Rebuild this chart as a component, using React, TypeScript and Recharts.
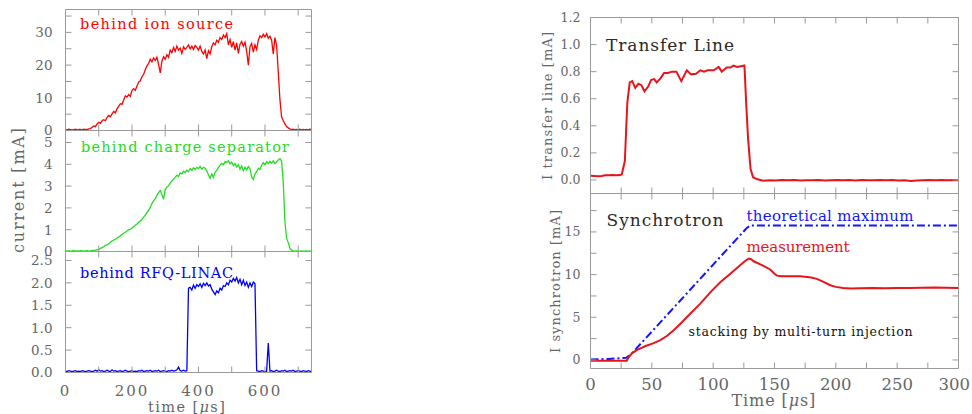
import React from 'react';
import { LineChart, Line, XAxis, YAxis } from 'recharts';

const W = 972;
const H = 414;

// ---- beam current traces, time in µs, current in mA ----
const ionSource: [number, number][] = [
  [0, 0.3], [5, 0.2], [10, 0.4], [15, 0.3], [20, 0.2], [25, 0.3], [30, 0.4], [35, 0.2], [40, 0.3], [45, 0.3],
  [50, 0.2], [55, 0.4], [60, 0.3], [65, 0.3], [70, 0.5], [75, 0.6], [80, 1.0], [85, 1.4], [90, 1.2], [95, 2.0],
  [100, 2.5], [105, 2.2], [110, 3.0], [115, 3.3], [120, 3.0], [125, 4.0], [130, 4.6], [135, 4.2], [140, 5.1], [145, 5.8],
  [150, 5.4], [155, 6.6], [160, 7.4], [165, 8.2], [170, 8.0], [175, 9.3], [180, 10.6], [185, 10.2], [190, 11.0], [195, 10.4],
  [200, 12.2], [205, 12.8], [210, 12.3], [215, 13.6], [220, 14.8], [225, 15.2], [230, 16.4], [235, 17.2], [240, 18.6], [245, 19.8],
  [250, 20.5], [255, 21.8], [260, 21.0], [265, 22.2], [270, 21.4], [275, 22.4], [280, 20.2], [285, 17.6], [290, 21.2], [295, 22.6],
  [300, 21.8], [305, 23.2], [310, 22.4], [315, 24.6], [320, 23.8], [325, 25.4], [330, 24.2], [335, 25.8], [340, 24.6], [345, 25.2],
  [350, 23.6], [355, 25.6], [360, 24.8], [365, 25.4], [370, 26.2], [375, 25.0], [380, 25.8], [385, 24.8], [390, 26.0], [395, 25.4],
  [400, 24.6], [405, 25.8], [410, 24.2], [415, 23.4], [420, 24.6], [425, 22.0], [430, 24.4], [435, 23.4], [440, 25.6], [445, 26.8],
  [450, 26.2], [455, 27.6], [460, 27.0], [465, 28.4], [470, 27.8], [475, 29.2], [480, 28.4], [485, 29.6], [490, 26.2], [495, 27.8],
  [500, 25.4], [505, 27.2], [510, 24.6], [515, 26.8], [520, 23.6], [525, 26.4], [530, 27.2], [535, 25.8], [540, 27.0], [545, 24.2],
  [550, 20.0], [555, 25.6], [560, 26.6], [565, 24.0], [570, 26.2], [575, 24.8], [580, 27.6], [585, 29.0], [590, 28.4], [595, 29.4],
  [600, 28.6], [605, 29.6], [610, 28.2], [615, 28.8], [620, 27.6], [625, 23.4], [630, 28.4], [635, 26.0], [640, 18.0], [645, 9.5],
  [650, 4.2], [655, 3.0], [660, 2.0], [665, 1.2], [670, 0.8], [675, 0.5], [680, 0.3], [685, 0.4], [690, 0.2], [695, 0.3],
  [700, 0.2], [705, 0.4], [710, 0.2], [715, 0.3], [720, 0.2], [725, 0.3], [730, 0.2], [735, 0.4], [740, 0.3],
];

const chargeSeparator: [number, number][] = [
  [0, 0.03], [5, 0.02], [10, 0.04], [15, 0.02], [20, 0.03], [25, 0.05], [30, 0.02], [35, 0.03], [40, 0.02], [45, 0.04],
  [50, 0.03], [55, 0.02], [60, 0.03], [65, 0.04], [70, 0.02], [75, 0.03], [80, 0.05], [85, 0.04], [90, 0.06], [95, 0.08],
  [100, 0.10], [105, 0.14], [110, 0.18], [115, 0.22], [120, 0.28], [125, 0.30], [130, 0.36], [135, 0.42], [140, 0.48], [145, 0.52],
  [150, 0.56], [155, 0.62], [160, 0.66], [165, 0.72], [170, 0.78], [175, 0.84], [180, 0.88], [185, 0.94], [190, 1.00], [195, 1.02],
  [200, 1.08], [205, 1.14], [210, 1.20], [215, 1.26], [220, 1.34], [225, 1.40], [230, 1.48], [235, 1.58], [240, 1.66], [245, 1.78],
  [250, 1.90], [255, 2.02], [260, 2.20], [265, 2.32], [270, 2.42], [275, 2.58], [280, 2.70], [285, 2.80], [290, 2.62], [295, 2.40],
  [300, 2.84], [305, 2.96], [310, 3.02], [315, 3.14], [320, 3.24], [325, 3.32], [330, 3.40], [335, 3.50], [340, 3.44], [345, 3.60],
  [350, 3.56], [355, 3.68], [360, 3.62], [365, 3.74], [370, 3.66], [375, 3.80], [380, 3.72], [385, 3.84], [390, 3.76], [395, 3.86],
  [400, 3.80], [405, 3.90], [410, 3.78], [415, 3.86], [420, 3.82], [425, 3.70], [430, 3.52], [435, 3.36], [440, 3.56], [445, 3.40],
  [450, 3.64], [455, 3.72], [460, 3.86], [465, 3.96], [470, 4.04], [475, 3.98], [480, 4.12], [485, 4.08], [490, 4.16], [495, 4.02],
  [500, 4.10], [505, 3.94], [510, 4.04], [515, 3.88], [520, 3.98], [525, 3.78], [530, 3.92], [535, 3.70], [540, 3.86], [545, 3.74],
  [550, 3.90], [555, 3.80], [560, 3.42], [565, 3.30], [570, 3.56], [575, 3.66], [580, 3.82], [585, 3.76], [590, 3.96], [595, 4.08],
  [600, 3.98], [605, 4.12], [610, 4.04], [615, 4.14], [620, 4.06], [625, 4.16], [630, 4.04], [635, 4.12], [640, 4.20], [645, 4.26],
  [650, 4.14], [655, 3.20], [660, 1.40], [665, 0.60], [670, 0.42], [675, 0.15], [680, 0.06], [685, 0.03], [690, 0.02], [695, 0.03],
  [700, 0.02], [705, 0.02], [710, 0.03], [715, 0.02], [720, 0.02], [725, 0.03], [730, 0.02], [735, 0.02], [740, 0.03],
];

const rfqLinac: [number, number][] = [
  [0, 0.03], [5, 0.02], [10, 0.04], [15, 0.03], [20, 0.02], [25, 0.03], [30, 0.04], [35, 0.02], [40, 0.03], [45, 0.02],
  [50, 0.04], [55, 0.03], [60, 0.02], [65, 0.03], [70, 0.04], [75, 0.03], [80, 0.02], [85, 0.03], [90, 0.05], [95, 0.03],
  [100, 0.06], [105, 0.03], [110, 0.04], [115, 0.02], [120, 0.03], [125, 0.05], [130, 0.03], [135, 0.02], [140, 0.06], [145, 0.03],
  [150, 0.04], [155, 0.02], [160, 0.03], [165, 0.04], [170, 0.02], [175, 0.03], [180, 0.05], [185, 0.03], [190, 0.02], [195, 0.03],
  [200, 0.04], [205, 0.02], [210, 0.03], [215, 0.02], [220, 0.04], [225, 0.03], [230, 0.05], [235, 0.02], [240, 0.03], [245, 0.04],
  [250, 0.03], [255, 0.05], [260, 0.02], [265, 0.03], [270, 0.04], [275, 0.03], [280, 0.05], [285, 0.02], [290, 0.03], [295, 0.04],
  [300, 0.03], [305, 0.02], [310, 0.04], [315, 0.03], [320, 0.05], [325, 0.03], [330, 0.04], [335, 0.06], [340, 0.12], [345, 0.04],
  [350, 0.03], [355, 0.05], [360, 0.03], [365, 0.04], [370, 1.88], [375, 1.90], [380, 1.84], [385, 1.95], [390, 1.88], [395, 1.96],
  [400, 1.92], [405, 1.98], [410, 1.90], [415, 1.99], [420, 1.94], [425, 2.00], [430, 1.93], [435, 1.96], [440, 1.86], [445, 1.80],
  [450, 1.74], [455, 1.82], [460, 1.78], [465, 1.88], [470, 1.84], [475, 1.94], [480, 1.92], [485, 2.00], [490, 1.96], [495, 2.06],
  [500, 2.02], [505, 2.10], [510, 2.04], [515, 2.12], [520, 2.00], [525, 2.08], [530, 1.96], [535, 2.06], [540, 1.94], [545, 2.02],
  [550, 1.90], [555, 2.00], [560, 1.92], [565, 2.02], [570, 1.98], [575, 0.04], [580, 0.03], [585, 0.02], [590, 0.04], [595, 0.03],
  [600, 0.02], [605, 0.03], [610, 0.66], [615, 0.03], [620, 0.04], [625, 0.02], [630, 0.03], [635, 0.05], [640, 0.03], [645, 0.02],
  [650, 0.04], [655, 0.03], [660, 0.05], [665, 0.02], [670, 0.03], [675, 0.04], [680, 0.03], [685, 0.05], [690, 0.02], [695, 0.03],
  [700, 0.04], [705, 0.03], [710, 0.02], [715, 0.04], [720, 0.03], [725, 0.02], [730, 0.04], [735, 0.03], [740, 0.02],
];

const transferLine: [number, number][] = [
  [0, 0.032], [3, 0.03], [6, 0.028], [9, 0.03], [12, 0.035], [15, 0.035], [18, 0.036], [21, 0.035], [24, 0.036], [25.5, 0.04],
  [28, 0.14], [30, 0.57], [32, 0.72], [34, 0.73], [36.5, 0.68], [39, 0.71], [41.5, 0.70], [44, 0.655], [47, 0.69], [49.5, 0.74],
  [52, 0.745], [54, 0.72], [57, 0.75], [60, 0.79], [63, 0.79], [66.5, 0.80], [70, 0.80], [74, 0.73], [78.5, 0.81], [82, 0.78],
  [86, 0.785], [89.5, 0.81], [92.5, 0.80], [95.5, 0.81], [100.5, 0.81], [104.5, 0.835], [107, 0.80], [111, 0.83], [114, 0.83], [116.5, 0.845],
  [119.5, 0.835], [122.5, 0.84], [125.5, 0.845], [127, 0.55], [128.5, 0.3], [130.5, 0.08], [132.5, 0.02], [136, 0.005], [141, -0.005], [146, -0.002],
  [151, -0.004], [156, 0.0], [161, -0.003], [166, 0.0], [171, -0.004], [176, -0.002], [181, -0.003], [186, 0.0], [191, -0.004], [196, -0.002],
  [201, 0.0], [206, -0.003], [211, -0.001], [216, -0.004], [221, 0.0], [226, -0.002], [231, -0.003], [236, 0.0], [241, -0.002], [246, -0.001],
  [251, -0.004], [256, -0.002], [261, -0.008], [266, -0.004], [271, -0.002], [276, 0.0], [281, -0.003], [286, 0.0], [291, -0.002], [296, 0.0],
  [300, -0.002],
];

const synchrotronMeasured: [number, number][] = [
  [0, -0.1], [10, -0.1], [20, -0.1], [29.5, -0.1], [31, 0.3], [34, 0.8], [38, 1.17], [42, 1.45], [45, 1.63], [51, 1.95],
  [57, 2.33], [62.5, 2.84], [68, 3.5], [73.5, 4.28], [81.5, 5.45], [89.5, 6.6], [98, 7.98], [106, 9.14], [114, 10.1], [122, 11.1],
  [126, 11.6], [129, 11.87], [131, 11.8], [133, 11.56], [138.5, 11.2], [146.5, 10.6], [150, 10.1], [152, 9.88], [156, 9.82], [160, 9.8],
  [171, 9.8], [176.5, 9.73], [180, 9.65], [184.5, 9.5], [190, 9.14], [195.5, 8.75], [200, 8.56], [206, 8.42], [212, 8.38], [220, 8.4],
  [230, 8.42], [240, 8.4], [250, 8.42], [260, 8.42], [270, 8.45], [280, 8.5], [290, 8.46], [300, 8.42],
];

const synchrotronTheory: [number, number][] = [
  [0, 0.05], [15, 0.12], [29, 0.25], [32.5, 0.58], [127, 15.4], [130, 15.75], [300, 15.75],
];

// ---- axis ticks ----
const leftTimeTicks = [0, 100, 200, 300, 400, 500, 600, 700];
const leftTimeLabels = [0, 200, 400, 600];
const ionTicks = [0, 5, 10, 15, 20, 25, 30, 35];
const ionLabels = [0, 10, 20, 30];
const chargeTicks = [0, 1, 2, 3, 4, 5];
const rfqTicks = [0, 0.5, 1.0, 1.5, 2.0, 2.5];
const rightTimeTicks = [0, 25, 50, 75, 100, 125, 150, 175, 200, 225, 250, 275, 300];
const rightTimeLabels = [0, 50, 100, 150, 200, 250, 300];
const transferTicks = [0, 0.2, 0.4, 0.6, 0.8, 1.0, 1.2];
const synchrotronTicks = [0, 2.5, 5, 7.5, 10, 12.5, 15, 17.5];
const synchrotronLabels = [0, 5, 10, 15];

const FRAME = '#9a9a9a';
const TICK_TEXT = '#666666';
const TICK_LEN = 6;
const SERIF = "'DejaVu Serif', serif";

type Row = { t: number; v: number };
const toRows = (pairs: [number, number][]): Row[] => pairs.map(([t, v]) => ({ t, v }));

type Side = 'left' | 'right' | 'top' | 'bottom';
type LabelSpec = { values?: number[]; fmt?: (v: number) => string; size: number; gap: number; spacing?: number };

function makeTick(side: Side, spec?: LabelSpec) {
  return function TickMark(props: any) {
    const { x, y, payload } = props;
    const v = payload.value as number;
    let x2 = x;
    let y2 = y;
    if (side === 'left') x2 = x + TICK_LEN;
    if (side === 'right') x2 = x - TICK_LEN;
    if (side === 'top') y2 = y + TICK_LEN;
    if (side === 'bottom') y2 = y - TICK_LEN;
    const show = spec && (!spec.values || spec.values.some((s) => Math.abs(s - v) < 1e-9));
    const text = show ? (spec!.fmt ? spec!.fmt(v) : String(v)) : null;
    // keep the outermost bottom label inside the canvas
    let labelX = x;
    if (text !== null && side === 'bottom') {
      const half = (text.length * spec!.size * 0.636 + text.length * (spec!.spacing ?? 0)) / 2;
      labelX = Math.min(x, W - 2 - half);
    }
    return (
      <g>
        <line x1={x} y1={y} x2={x2} y2={y2} stroke={FRAME} strokeWidth={1} />
        {text !== null && side === 'left' && (
          <text
            x={x - spec!.gap}
            y={y + spec!.size * 0.36}
            textAnchor="end"
            fontFamily={SERIF}
            fontSize={spec!.size}
            fill={TICK_TEXT}
          >
            {text}
          </text>
        )}
        {text !== null && side === 'bottom' && (
          <text
            x={labelX}
            y={y + spec!.gap}
            textAnchor="middle"
            fontFamily={SERIF}
            fontSize={spec!.size}
            letterSpacing={spec!.spacing ?? 0}
            fill={TICK_TEXT}
          >
            {text}
          </text>
        )}
      </g>
    );
  };
}

type Series = { data: [number, number][]; color: string; width: number; dash?: string };
type PanelProps = {
  box: { left: number; top: number; right: number; bottom: number };
  xDomain: [number, number];
  xTicks: number[];
  xLabels?: LabelSpec;
  yDomain: [number, number];
  yTicks: number[];
  yLabels: LabelSpec;
  series: Series[];
};

// Each panel is its own LineChart covering the whole canvas; the margins place its plot frame.
// All four axes are 1px thick so that they draw the frame and the inward tick marks.
function Panel({ box, xDomain, xTicks, xLabels, yDomain, yTicks, yLabels, series }: PanelProps) {
  const margin = { left: box.left - 1, top: box.top - 1, right: W - box.right - 1, bottom: H - box.bottom - 1 };
  const axisLine = { stroke: FRAME, strokeWidth: 1 };
  return (
    <div style={{ position: 'absolute', left: 0, top: 0 }}>
      <LineChart width={W} height={H} margin={margin}>
        <XAxis
          xAxisId="b"
          type="number"
          dataKey="t"
          orientation="bottom"
          domain={xDomain}
          ticks={xTicks}
          interval={0}
          allowDataOverflow
          height={1}
          tickSize={0}
          tickMargin={0}
          tickLine={false}
          axisLine={axisLine}
          tick={makeTick('bottom', xLabels)}
        />
        <XAxis
          xAxisId="t"
          type="number"
          dataKey="t"
          orientation="top"
          domain={xDomain}
          ticks={xTicks}
          interval={0}
          allowDataOverflow
          height={1}
          tickSize={0}
          tickMargin={0}
          tickLine={false}
          axisLine={axisLine}
          tick={makeTick('top')}
        />
        <YAxis
          yAxisId="l"
          type="number"
          orientation="left"
          domain={yDomain}
          ticks={yTicks}
          interval={0}
          allowDataOverflow
          width={1}
          tickSize={0}
          tickMargin={0}
          tickLine={false}
          axisLine={axisLine}
          tick={makeTick('left', yLabels)}
        />
        <YAxis
          yAxisId="r"
          type="number"
          orientation="right"
          domain={yDomain}
          ticks={yTicks}
          interval={0}
          allowDataOverflow
          width={1}
          tickSize={0}
          tickMargin={0}
          tickLine={false}
          axisLine={axisLine}
          tick={makeTick('right')}
        />
        {series.map((s, i) => (
          <Line
            key={i}
            xAxisId="b"
            yAxisId="l"
            data={toRows(s.data)}
            dataKey="v"
            type="linear"
            stroke={s.color}
            strokeWidth={s.width}
            strokeDasharray={s.dash}
            dot={false}
            activeDot={false}
            isAnimationActive={false}
          />
        ))}
      </LineChart>
    </div>
  );
}

const LX0 = 65.5;
const LX1 = 311.5;
const RX0 = 590.5;
const RX1 = 958.5;

const leftY = { size: 13.5, gap: 13 };
const rightY = { size: 12.5, gap: 10 };

export default function App() {
  return (
    <div style={{ position: 'absolute', left: 0, top: 0, width: W, height: H, background: '#ffffff', overflow: 'hidden' }}>
      <Panel
        box={{ left: LX0, right: LX1, top: 9.5, bottom: 130.5 }}
        xDomain={[0, 740]}
        xTicks={leftTimeTicks}
        yDomain={[0, 37]}
        yTicks={ionTicks}
        yLabels={{ ...leftY, values: ionLabels }}
        series={[{ data: ionSource, color: '#ff0000', width: 1.3 }]}
      />
      <Panel
        box={{ left: LX0, right: LX1, top: 130.5, bottom: 251.5 }}
        xDomain={[0, 740]}
        xTicks={leftTimeTicks}
        yDomain={[0, 5.55]}
        yTicks={chargeTicks}
        yLabels={{ ...leftY }}
        series={[{ data: chargeSeparator, color: '#22dd22', width: 1.3 }]}
      />
      <Panel
        box={{ left: LX0, right: LX1, top: 251.5, bottom: 372.5 }}
        xDomain={[0, 740]}
        xTicks={leftTimeTicks}
        xLabels={{ values: leftTimeLabels, size: 15, gap: 23, spacing: 2 }}
        yDomain={[0, 2.7]}
        yTicks={rfqTicks}
        yLabels={{ ...leftY, fmt: (v) => v.toFixed(1) }}
        series={[{ data: rfqLinac, color: '#0000ff', width: 1.3 }]}
      />
      <Panel
        box={{ left: RX0, right: RX1, top: 17.5, bottom: 193.5 }}
        xDomain={[0, 300]}
        xTicks={rightTimeTicks}
        yDomain={[-0.1, 1.2]}
        yTicks={transferTicks}
        yLabels={{ ...rightY, fmt: (v) => v.toFixed(1) }}
        series={[{ data: transferLine, color: '#e8141c', width: 2 }]}
      />
      <Panel
        box={{ left: RX0, right: RX1, top: 193.5, bottom: 368.5 }}
        xDomain={[0, 300]}
        xTicks={rightTimeTicks}
        xLabels={{ values: rightTimeLabels, size: 16.5, gap: 21 }}
        yDomain={[-1, 19.5]}
        yTicks={synchrotronTicks}
        yLabels={{ ...rightY, values: synchrotronLabels }}
        series={[
          { data: synchrotronTheory, color: '#1414ff', width: 2, dash: '8 3 2 3' },
          { data: synchrotronMeasured, color: '#e8141c', width: 2 },
        ]}
      />
      <svg
        width={W}
        height={H}
        style={{ position: 'absolute', left: 0, top: 0, pointerEvents: 'none' }}
      >
        <g fontFamily={SERIF}>
          <text x={80} y={29} fontSize={14.5} fill="#ff0000" textLength={153} lengthAdjust="spacing">
            behind ion source
          </text>
          <text x={81} y={151.5} fontSize={14.5} fill="#22dd22" textLength={208} lengthAdjust="spacing">
            behind charge separator
          </text>
          <text x={80} y={277.5} fontSize={14.5} fill="#0000ff" textLength={153} lengthAdjust="spacing">
            behind RFQ-LINAC
          </text>
          <text x={606} y={51} fontSize={17} fill="#2a2a2a" textLength={128} lengthAdjust="spacing">
            Transfer Line
          </text>
          <text x={606.5} y={225.5} fontSize={17} fill="#2a2a2a" textLength={117} lengthAdjust="spacing">
            Synchrotron
          </text>
          <text x={746.5} y={220.5} fontSize={15} fill="#1414ff" textLength={167} lengthAdjust="spacing">
            theoretical maximum
          </text>
          <text x={746.5} y={251.5} fontSize={15} fill="#e8141c" textLength={103} lengthAdjust="spacing">
            measurement
          </text>
          <text x={688.5} y={335.5} fontSize={12.5} fill="#111111" textLength={224} lengthAdjust="spacing">
            stacking by multi-turn injection
          </text>
          <text
            transform="translate(18,190.5) rotate(-90)"
            textAnchor="middle"
            dominantBaseline="central"
            fontSize={16}
            fill={TICK_TEXT}
            textLength={125}
            lengthAdjust="spacing"
          >
            current [mA]
          </text>
          <text x={148} y={411.5} fontSize={14.5} fill={TICK_TEXT} letterSpacing={1.4}>
            time [<tspan fontStyle="italic">μ</tspan>s]
          </text>
          <text x={731.5} y={405.5} fontSize={16} fill={TICK_TEXT} letterSpacing={0.9}>
            Time [<tspan fontStyle="italic">μ</tspan>s]
          </text>
          <text
            transform="translate(547,106) rotate(-90)"
            textAnchor="middle"
            dominantBaseline="central"
            fontSize={13}
            fill={TICK_TEXT}
            textLength={148}
            lengthAdjust="spacing"
          >
            I transfer line [mA]
          </text>
          <text
            transform="translate(555,281.5) rotate(-90)"
            textAnchor="middle"
            dominantBaseline="central"
            fontSize={13}
            fill={TICK_TEXT}
            textLength={143}
            lengthAdjust="spacing"
          >
            I synchrotron [mA]
          </text>
        </g>
      </svg>
    </div>
  );
}
